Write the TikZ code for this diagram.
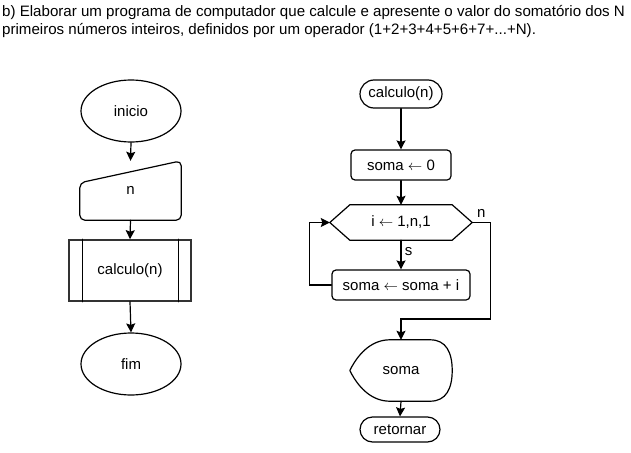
\documentclass[tikz,border=0pt]{standalone}
\usepackage{fontspec}
\setmainfont{Liberation Sans}
\usetikzlibrary{arrows.meta, calc, shapes.geometric, shapes.misc}

\tikzset{
	flow/.style={line width=1.2pt, -{Stealth[length=9pt, width=9pt, inset=1.5pt]}},
	term/.style={draw, line width=1.2pt, ellipse, minimum width=100pt, minimum height=62pt, inner sep=0pt},
	pill/.style={draw, line width=1.2pt, rounded rectangle, inner sep=0pt},
	proc/.style={draw, line width=1.2pt, rectangle, rounded corners=4pt, inner sep=0pt},
	blank/.style={rectangle, inner sep=0pt},
	outline/.style={line width=1.2pt, line join=round},
	every node/.style={font=\fontsize{15}{18}\selectfont},
	title/.style={anchor=base west, inner sep=0pt, font=\fontsize{15.1}{18}\selectfont}
}

\begin{document}
\begin{tikzpicture}[x=1pt, y=-1pt, line cap=round]

	\useasboundingbox (0,0) rectangle (631,452);

	\node[title] (title1) at (2,17) {b) Elaborar um programa de computador que calcule e apresente o valor do somatório dos N};
	\node[title] (title2) at (2,35) {primeiros números inteiros, definidos por um operador (1+2+3+4+5+6+7+...+N).};

	% main program
	\node[term] (inicio) at (131,111) {inicio};

	\node[blank, minimum width=101pt, minimum height=59pt] (inp) at (130.5,190.5) {n};
	\draw[outline, rounded corners=5pt] ($ (inp.north west)+(0,22) $) -- (inp.north east) -- (inp.south east) -- (inp.south west) -- cycle;

	\node[draw, line width=1.6pt, black!80, text=black, minimum width=122pt, minimum height=61pt, inner sep=0pt] (sub) at (130,270.5) {calculo(n)};
	\draw[line width=1.2pt] ($ (sub.north west)+(14,0) $) -- ($ (sub.south west)+(14,0) $);
	\draw[line width=1.2pt] ($ (sub.north east)+(-13,0) $) -- ($ (sub.south east)+(-13,0) $);

	\node[term] (fim) at (131,364) {fim};

	\draw[flow] (inicio.south) -- (inp.north);
	\draw[flow] (inp.south) -- (sub.north);
	\draw[flow] (sub.south) -- (fim.north);

	% function calculo(n)
	\node[pill, minimum width=82pt, minimum height=28pt] (calc) at (401,94) {calculo(n)};
	\node[proc, minimum width=100pt, minimum height=30pt] (init) at (401,165) {soma $\leftarrow$ 0};

	\node[blank, minimum width=142pt, minimum height=35pt] (loop) at (401,222.5) {i $\leftarrow$ 1,n,1};
	\draw[outline] (loop.west) -- ($ (loop.north west)+(20,0) $) -- ($ (loop.north east)+(-20,0) $) -- (loop.east)
		-- ($ (loop.south east)+(-20,0) $) -- ($ (loop.south west)+(20,0) $) -- cycle;

	\node[proc, minimum width=138pt, minimum height=30pt] (body) at (401,285) {soma $\leftarrow$ soma + i};

	\node[blank, minimum width=102pt, minimum height=61pt] (out) at (401,370.5) {soma};
	\draw[outline] (out.west) .. controls ($ (out.west)+(10,-20) $) and ($ (out.north west)+(24,0) $) .. ($ (out.north west)+(40,0) $)
		-- ($ (out.north east)+(-22,0) $) .. controls ($ (out.north east)+(-6,0) $) and ($ (out.east)+(0,-18) $) .. (out.east)
		.. controls ($ (out.east)+(0,18) $) and ($ (out.south east)+(-6,0) $) .. ($ (out.south east)+(-22,0) $)
		-- ($ (out.south west)+(40,0) $) .. controls ($ (out.south west)+(24,0) $) and ($ (out.west)+(10,20) $) .. (out.west) -- cycle;

	\node[pill, minimum width=80pt, minimum height=25pt] (ret) at (400,429.5) {retornar};

	\draw[flow] (calc.south) -- (init.north);
	\draw[flow] (init.south) -- (loop.north);
	\draw[flow] (loop.south) -- node[right, pos=0.4] {s} (body.north);
	\draw[flow] (body.west) -- ++(-22,0) |- (loop.west);
	\draw[flow] (loop.east) -- node[above, yshift=1pt] {n} ++(18,0) -- ++(0,96.5) -| (out.north);
	\draw[flow] (out.south) -- (ret.north);

\end{tikzpicture}
\end{document}
